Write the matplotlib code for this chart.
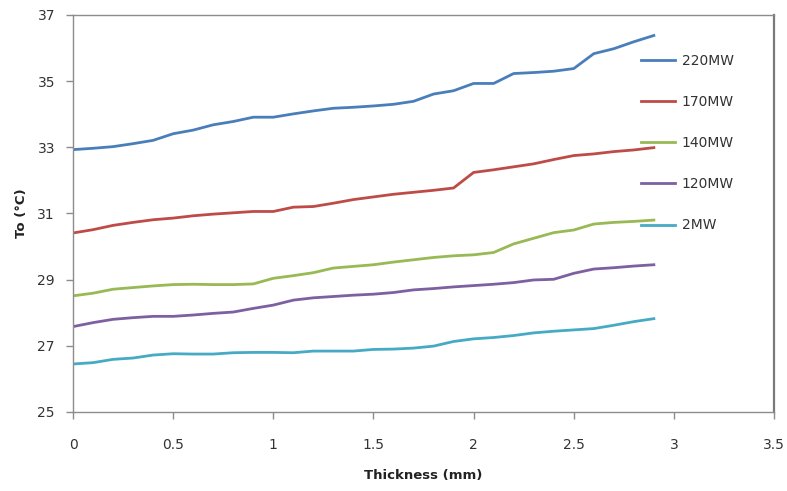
import matplotlib.pyplot as plt

# Thickness (mm)
thickness = [0.0, 0.1, 0.2, 0.3, 0.4, 0.5, 0.6, 0.7, 0.8, 0.9,
             1.0, 1.1, 1.2, 1.3, 1.4, 1.5, 1.6, 1.7, 1.8, 1.9,
             2.0, 2.1, 2.2, 2.3, 2.4, 2.5, 2.6, 2.7, 2.8, 2.9]

# To (°C) for each power level
to_220 = [32.93, 32.97, 33.02, 33.11, 33.21, 33.41, 33.52, 33.68, 33.78, 33.91,
          33.91, 34.01, 34.10, 34.18, 34.21, 34.25, 34.30, 34.39, 34.61, 34.71,
          34.93, 34.93, 35.23, 35.26, 35.30, 35.38, 35.83, 35.98, 36.19, 36.38]
to_170 = [30.41, 30.51, 30.64, 30.73, 30.81, 30.86, 30.93, 30.98, 31.02, 31.06,
          31.06, 31.19, 31.21, 31.31, 31.42, 31.50, 31.58, 31.64, 31.70, 31.77,
          32.24, 32.32, 32.41, 32.50, 32.63, 32.75, 32.80, 32.87, 32.92, 32.99]
to_140 = [28.51, 28.59, 28.71, 28.76, 28.81, 28.85, 28.86, 28.85, 28.85, 28.87,
          29.04, 29.12, 29.21, 29.35, 29.40, 29.45, 29.53, 29.60, 29.67, 29.72,
          29.75, 29.82, 30.08, 30.25, 30.42, 30.50, 30.68, 30.73, 30.76, 30.80]
to_120 = [27.58, 27.70, 27.80, 27.85, 27.89, 27.89, 27.93, 27.98, 28.02, 28.13,
          28.23, 28.38, 28.45, 28.49, 28.53, 28.56, 28.61, 28.69, 28.73, 28.78,
          28.82, 28.86, 28.91, 28.99, 29.01, 29.19, 29.32, 29.36, 29.41, 29.45]
to_2 = [26.45, 26.49, 26.59, 26.63, 26.72, 26.76, 26.75, 26.75, 26.79, 26.80,
        26.80, 26.79, 26.84, 26.84, 26.84, 26.89, 26.90, 26.93, 26.99, 27.13,
        27.21, 27.25, 27.31, 27.39, 27.44, 27.48, 27.52, 27.62, 27.73, 27.82]

fig = plt.figure(figsize=(7.87, 4.91), dpi=100)
ax = fig.add_axes([0.0928, 0.161, 0.8907, 0.8085])

ax.plot(thickness, to_220, color='#4A7EBB', lw=2, label='220MW')
ax.plot(thickness, to_170, color='#BE4B48', lw=2, label='170MW')
ax.plot(thickness, to_140, color='#98B954', lw=2, label='140MW')
ax.plot(thickness, to_120, color='#7D60A0', lw=2, label='120MW')
ax.plot(thickness, to_2, color='#46AAC5', lw=2, label='2MW')

ax.set_xlim(0, 3.5)
ax.set_ylim(25, 37)
ax.set_xticks([0, 0.5, 1, 1.5, 2, 2.5, 3, 3.5])
ax.set_xticklabels(['0', '0.5', '1', '1.5', '2', '2.5', '3', '3.5'])
ax.set_yticks([25, 27, 29, 31, 33, 35, 37])

for s in ax.spines.values():
    s.set_color('#8c8c8c')
    s.set_linewidth(1)
ax.spines['right'].set_color('#7a7a7a')
ax.spines['right'].set_linewidth(1.6)

ax.tick_params(colors='#8c8c8c', labelcolor='#333333', labelsize=10,
               length=5, width=1)
ax.tick_params(axis='y', pad=8)
ax.tick_params(axis='x', pad=14)

ax.set_xlabel('Thickness (mm)', fontsize=9.5, fontweight='bold',
              color='#222222', labelpad=12)
ax.set_ylabel('To (°C)', fontsize=9.5, fontweight='bold',
              color='#222222', labelpad=7)

ax.legend(loc='upper left', bbox_to_anchor=(0.792, 0.933), frameon=False,
          fontsize=10, handlelength=2.5, labelspacing=1.95,
          handletextpad=0.45, labelcolor='#333333')

plt.savefig('out.png', dpi=100)
